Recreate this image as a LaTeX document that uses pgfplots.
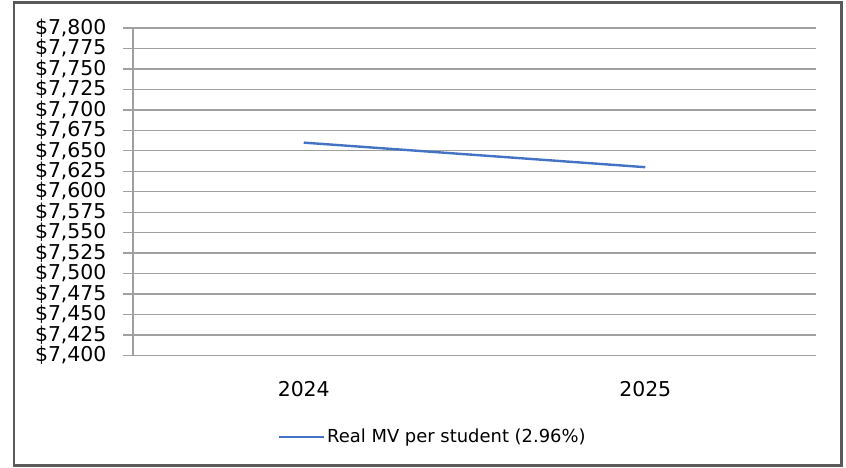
\documentclass[border=0pt]{standalone}
\usepackage{pgfplots}
\pgfplotsset{compat=1.18}
\usepackage{fontspec}
\setmainfont{DejaVu Sans}
\definecolor{gridgray}{HTML}{A0A0A0}
\definecolor{linblue}{HTML}{4472C4}
\definecolor{framegray}{HTML}{5A5A5A}
\begin{document}
\begin{tikzpicture}[x=1bp,y=1bp]
\useasboundingbox (0,0) rectangle (846,468);
\draw[framegray, line width=2.5bp] (14,2.5) rectangle (841.5,465.5);
\begin{axis}[
  at={(133bp,112.5bp)}, anchor=south west,
  scale only axis, width=683bp, height=327.5bp,
  xmin=-0.5, xmax=1.5, ymin=7400, ymax=7800,
  axis line style={gridgray, line width=1.3bp},
  axis x line*=bottom, axis y line*=left,
  xtick={0,1}, xticklabels={2024,2025},
  major x tick style={draw=none},
  extra x ticks={-0.5,0.5,1.5}, extra x tick labels={},
  extra x tick style={major tick length=10bp, tick align=outside, tick style={gridgray, line width=1.3bp}, grid=none},
  ytick={7400,7425,...,7800},
  yticklabels={\$7{,}400,\$7{,}425,\$7{,}450,\$7{,}475,\$7{,}500,\$7{,}525,\$7{,}550,\$7{,}575,\$7{,}600,\$7{,}625,\$7{,}650,\$7{,}675,\$7{,}700,\$7{,}725,\$7{,}750,\$7{,}775,\$7{,}800},
  ymajorgrids, grid style={gridgray, line width=1.3bp},
  major y tick style={gridgray, line width=1.3bp},
  tick align=outside, major tick length=10bp,
  yticklabel style={font=\fontsize{20.5}{20.5}\selectfont, text=black, xshift=-13bp},
  xticklabel style={font=\fontsize{20.5}{20.5}\selectfont, text=black, yshift=-12bp},
  legend style={at={(0.212,-0.248)}, anchor=west, draw=none, fill=none, font=\fontsize{18}{18}\selectfont, inner sep=0pt, outer sep=0pt},
  legend image code/.code={\draw[#1] (0bp,0bp) -- (45bp,0bp);},
  legend cell align=left,
  clip=false,
]
\addplot[linblue, line width=2.4bp, mark=none] coordinates {(0,7660) (1,7630)};
\addlegendentry{Real MV per student (2.96\%)}
\end{axis}
\end{tikzpicture}
\end{document}
